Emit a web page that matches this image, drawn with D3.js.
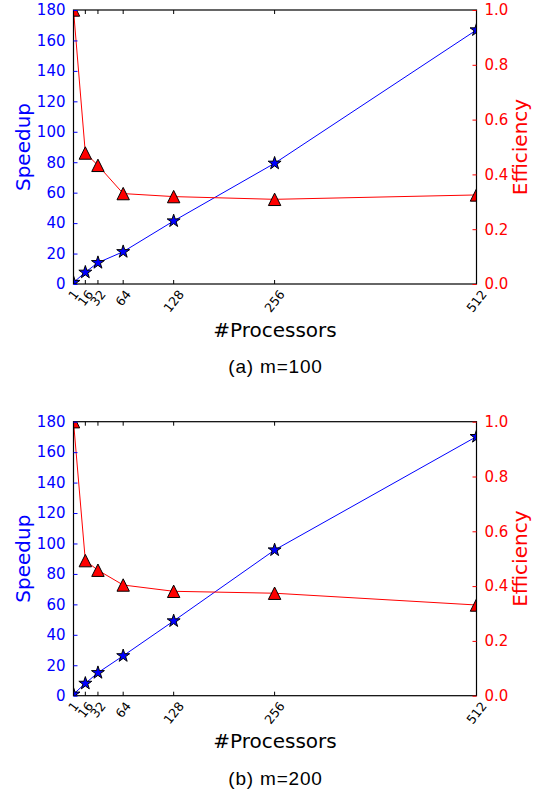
<!DOCTYPE html>
<html>
<head>
<meta charset="utf-8">
<script src="https://cdn.jsdelivr.net/npm/d3@7"></script>
<style>
  body { margin: 0; background: #fff; }
  text { font-family: "DejaVu Sans", sans-serif; }
</style>
</head>
<body>
<div id="chart"></div>
<script>
const width = 541;
const height = 793;

// data
const processors = [1, 16, 32, 64, 128, 256, 512];
const xTicks = [1, 16, 32, 64, 128, 256, 512];
const speedupTicks = [0, 20, 40, 60, 80, 100, 120, 140, 160, 180];
const efficiencyTicks = [0, 0.2, 0.4, 0.6, 0.8, 1.0];

const speedupA = [1, 7.7, 14.0, 21.2, 41.4, 79.3, 166.9];
const efficiencyA = [1.0, 0.478, 0.433, 0.33, 0.319, 0.309, 0.325];
const speedupB = [1, 8.1, 15.1, 26.2, 49.1, 95.7, 170.2];
const efficiencyB = [1.0, 0.493, 0.458, 0.404, 0.381, 0.374, 0.331];

const captions = ["(a) m=100", "(b) m=200"];

const left = 73.5;
const right = 476.5;
const plotHeight = 274;
const panelTops = [10, 421.7];

const svg = d3.select("#chart")
  .append("svg")
  .attr("width", width)
  .attr("height", height);

const x = d3.scaleLinear().domain([1, 512]).range([left, right]);

function triangle(r) {
  return `M0,${-r}L${r},${r}L${-r},${r}Z`;
}

function drawPanel(idx, speedup, efficiency) {
  const top = panelTops[idx];
  const bottom = top + plotHeight;
  const ySpeed = d3.scaleLinear().domain([0, 180]).range([bottom, top]);
  const yEff = d3.scaleLinear().domain([0, 1]).range([bottom, top]);

  const g = svg.append("g");
  const clipId = "clip" + idx;
  g.append("clipPath").attr("id", clipId)
    .append("rect")
    .attr("x", left).attr("y", top)
    .attr("width", right - left).attr("height", plotHeight);

  const plot = g.append("g").attr("clip-path", `url(#${clipId})`);

  // speedup line
  const speedLine = d3.line().x((d, i) => x(processors[i])).y(d => ySpeed(d));
  plot.append("path")
    .attr("d", speedLine(speedup))
    .attr("fill", "none")
    .attr("stroke", "#0000ff")
    .attr("stroke-width", 1);

  plot.selectAll(".star")
    .data(speedup)
    .enter()
    .append("path")
    .attr("d", d3.symbol().type(d3.symbolStar).size(52)())
    .attr("transform", (d, i) => `translate(${x(processors[i])},${ySpeed(d)})`)
    .attr("fill", "#0000ff")
    .attr("stroke", "#000")
    .attr("stroke-width", 1);

  // efficiency line
  const effLine = d3.line().x((d, i) => x(processors[i])).y(d => yEff(d));
  plot.append("path")
    .attr("d", effLine(efficiency))
    .attr("fill", "none")
    .attr("stroke", "#ff0000")
    .attr("stroke-width", 1);

  plot.selectAll(".tri")
    .data(efficiency)
    .enter()
    .append("path")
    .attr("d", triangle(6.2))
    .attr("transform", (d, i) => `translate(${x(processors[i])},${yEff(d)})`)
    .attr("fill", "#ff0000")
    .attr("stroke", "#000")
    .attr("stroke-width", 1);

  // frame
  g.append("rect")
    .attr("x", left).attr("y", top)
    .attr("width", right - left).attr("height", plotHeight)
    .attr("fill", "none")
    .attr("stroke", "#000")
    .attr("stroke-width", 1.2);

  // x ticks (inward, bottom and top)
  const ang = 52;
  xTicks.forEach(t => {
    g.append("line")
      .attr("x1", x(t)).attr("x2", x(t))
      .attr("y1", bottom).attr("y2", bottom - 4)
      .attr("stroke", "#000");
    g.append("line")
      .attr("x1", x(t)).attr("x2", x(t))
      .attr("y1", top).attr("y2", top + 4)
      .attr("stroke", "#000");
    const label = g.append("text")
      .text(t)
      .attr("font-size", 12.5)
      .attr("text-anchor", "middle")
      .attr("dominant-baseline", "central")
      .attr("fill", "#000");
    const w = label.node().getComputedTextLength();
    const h = 9;
    const a = ang * Math.PI / 180;
    const ext = w * Math.sin(a) + h * Math.cos(a);
    label.attr("transform", `translate(${x(t)},${bottom + 5 + ext / 2}) rotate(${-ang})`);
  });

  // left axis (speedup)
  const leftAxis = d3.axisLeft(ySpeed).tickValues(speedupTicks).tickSize(-4).tickPadding(8);
  const la = g.append("g").attr("transform", `translate(${left},0)`).call(leftAxis);
  la.select(".domain").remove();
  la.selectAll("line").attr("stroke", "#0000ff");
  la.selectAll("text")
    .attr("fill", "#0000ff")
    .attr("font-size", 15)
    .attr("font-family", "DejaVu Sans");

  // right axis (efficiency)
  const rightAxis = d3.axisRight(yEff).tickValues(efficiencyTicks).tickSize(-4).tickPadding(8)
    .tickFormat(d3.format(".1f"));
  const ra = g.append("g").attr("transform", `translate(${right},0)`).call(rightAxis);
  ra.select(".domain").remove();
  ra.selectAll("line").attr("stroke", "#ff0000");
  ra.selectAll("text")
    .attr("fill", "#ff0000")
    .attr("font-size", 15)
    .attr("font-family", "DejaVu Sans");

  // axis titles
  g.append("text")
    .text("Speedup")
    .attr("transform", `translate(22.5,${(top + bottom) / 2}) rotate(-90)`)
    .attr("text-anchor", "middle")
    .attr("dominant-baseline", "central")
    .attr("font-size", 20)
    .attr("fill", "#0000ff");

  g.append("text")
    .text("Efficiency")
    .attr("transform", `translate(519.5,${(top + bottom) / 2}) rotate(-90)`)
    .attr("text-anchor", "middle")
    .attr("dominant-baseline", "central")
    .attr("font-size", 20)
    .attr("fill", "#ff0000");

  g.append("text")
    .text("#Processors")
    .attr("x", 275)
    .attr("y", bottom + 52.5)
    .attr("text-anchor", "middle")
    .attr("font-size", 20)
    .attr("fill", "#000");

  g.append("text")
    .text(captions[idx])
    .attr("x", 275.5)
    .attr("y", bottom + 89)
    .attr("text-anchor", "middle")
    .attr("font-size", 19)
    .attr("letter-spacing", 0.8)
    .style("font-family", "'Liberation Sans', Arial, sans-serif")
    .attr("fill", "#000");
}

drawPanel(0, speedupA, efficiencyA);
drawPanel(1, speedupB, efficiencyB);
</script>
</body>
</html>
